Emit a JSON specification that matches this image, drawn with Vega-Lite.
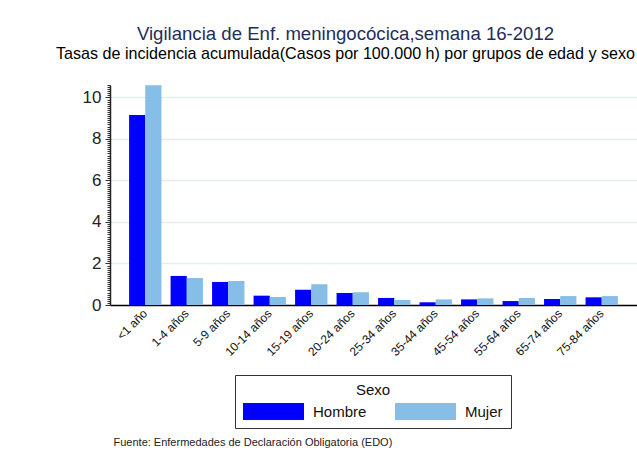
{
  "$schema": "https://vega.github.io/schema/vega-lite/v6.json",
  "width": 527,
  "height": 220,
  "autosize": "none",
  "padding": {"left": 110, "top": 85, "right": 0, "bottom": 158},
  "background": "white",
  "title": {
    "text": "Vigilancia de Enf. meningocócica,semana 16-2012\u00a0\u00a0\u00a0\u00a0\u00a0",
    "subtitle": "Tasas de incidencia acumulada(Casos por 100.000 h) por grupos de edad y sexo",
    "anchor": "middle",
    "dx": -28,
    "offset": 14,
    "font": "Liberation Sans",
    "fontSize": 18.6,
    "fontWeight": "normal",
    "color": "#1f2d5c",
    "subtitleFont": "Liberation Sans",
    "subtitleFontSize": 16.1,
    "subtitleColor": "#000000",
    "subtitlePadding": 2
  },
  "data": {
    "values": [
      {"edad": "<1 año", "sexo": "Hombre", "tasa": 9.16},
      {"edad": "<1 año", "sexo": "Mujer", "tasa": 10.59},
      {"edad": "1-4 años", "sexo": "Hombre", "tasa": 1.40},
      {"edad": "1-4 años", "sexo": "Mujer", "tasa": 1.30},
      {"edad": "5-9 años", "sexo": "Hombre", "tasa": 1.11},
      {"edad": "5-9 años", "sexo": "Mujer", "tasa": 1.16},
      {"edad": "10-14 años", "sexo": "Hombre", "tasa": 0.45},
      {"edad": "10-14 años", "sexo": "Mujer", "tasa": 0.39},
      {"edad": "15-19 años", "sexo": "Hombre", "tasa": 0.74},
      {"edad": "15-19 años", "sexo": "Mujer", "tasa": 1.00},
      {"edad": "20-24 años", "sexo": "Hombre", "tasa": 0.58},
      {"edad": "20-24 años", "sexo": "Mujer", "tasa": 0.61},
      {"edad": "25-34 años", "sexo": "Hombre", "tasa": 0.34},
      {"edad": "25-34 años", "sexo": "Mujer", "tasa": 0.24},
      {"edad": "35-44 años", "sexo": "Hombre", "tasa": 0.13},
      {"edad": "35-44 años", "sexo": "Mujer", "tasa": 0.27},
      {"edad": "45-54 años", "sexo": "Hombre", "tasa": 0.27},
      {"edad": "45-54 años", "sexo": "Mujer", "tasa": 0.32},
      {"edad": "55-64 años", "sexo": "Hombre", "tasa": 0.19},
      {"edad": "55-64 años", "sexo": "Mujer", "tasa": 0.34},
      {"edad": "65-74 años", "sexo": "Hombre", "tasa": 0.29},
      {"edad": "65-74 años", "sexo": "Mujer", "tasa": 0.43},
      {"edad": "75-84 años", "sexo": "Hombre", "tasa": 0.37},
      {"edad": "75-84 años", "sexo": "Mujer", "tasa": 0.43}
    ]
  },
  "mark": {"type": "bar"},
  "encoding": {
    "x": {
      "field": "edad",
      "type": "nominal",
      "sort": null,
      "scale": {"paddingInner": 0.22, "paddingOuter": 0.46},
      "axis": {
        "title": "Fuente: Enfermedades de Declaración Obligatoria (EDO)",
        "titleFont": "Liberation Sans",
        "titleFontSize": 11,
        "titleFontWeight": "normal",
        "titleColor": "#222222",
        "titleAnchor": "start",
        "titleAlign": "left",
        "titleBaseline": "alphabetic",
        "titleX": 3,
        "titleY": 140,
        "labelAngle": -45,
        "labelAlign": "right",
        "labelBaseline": "middle",
        "labelPadding": 6,
        "labelFont": "Liberation Sans",
        "labelFontSize": 12,
        "labelColor": "#111111",
        "ticks": false,
        "domainColor": "#000000",
        "domainWidth": 1.5,
        "grid": false
      }
    },
    "xOffset": {"field": "sexo", "type": "nominal", "scale": {"paddingInner": 0, "paddingOuter": 0}},
    "y": {
      "field": "tasa",
      "type": "quantitative",
      "scale": {"domain": [0, 10.6], "nice": false},
      "axis": {
        "title": null,
        "values": [0,0.1,0.2,0.3,0.4,0.5,0.6,0.7,0.8,0.9,1,1.1,1.2,1.3,1.4,1.5,1.6,1.7,1.8,1.9,2,2.1,2.2,2.3,2.4,2.5,2.6,2.7,2.8,2.9,3,3.1,3.2,3.3,3.4,3.5,3.6,3.7,3.8,3.9,4,4.1,4.2,4.3,4.4,4.5,4.6,4.7,4.8,4.9,5,5.1,5.2,5.3,5.4,5.5,5.6,5.7,5.8,5.9,6,6.1,6.2,6.3,6.4,6.5,6.6,6.7,6.8,6.9,7,7.1,7.2,7.3,7.4,7.5,7.6,7.7,7.8,7.9,8,8.1,8.2,8.3,8.4,8.5,8.6,8.7,8.8,8.9,9,9.1,9.2,9.3,9.4,9.5,9.6,9.7,9.8,9.9,10,10.1,10.2,10.3,10.4,10.5,10.6],
        "labelExpr": "abs(datum.value - round(datum.value/2)*2) < 0.001 ? format(datum.value, 'd') : ''",
        "labelOverlap": false,
        "labelFont": "Liberation Sans",
        "labelFontSize": 17,
        "labelColor": "#222222",
        "labelPadding": 4,
        "tickColor": "#333333",
        "tickSize": {"condition": {"test": "abs(datum.value - round(datum.value/2)*2) < 0.001", "value": 5}, "value": 3},
        "tickWidth": 1,
        "domainColor": "#222222",
        "domainWidth": 1.5,
        "grid": true,
        "gridColor": "#e4edf0",
        "gridWidth": 1.5,
        "gridOpacity": {"condition": {"test": "abs(datum.value - round(datum.value/2)*2) < 0.001 && datum.value > 0", "value": 1}, "value": 0}
      }
    },
    "color": {
      "field": "sexo",
      "type": "nominal",
      "scale": {"domain": ["Hombre", "Mujer"], "range": ["#0000ff", "#86bee8"]},
      "legend": {
        "title": "Sexo",
        "orient": "none",
        "legendX": 125,
        "legendY": 290,
        "direction": "horizontal",
        "titleAnchor": "middle",
        "titleFont": "Liberation Sans",
        "titleFontSize": 15,
        "titleFontWeight": "normal",
        "titleColor": "#111111",
        "titlePadding": 5,
        "labelFont": "Liberation Sans",
        "labelFontSize": 15,
        "labelColor": "#111111",
        "labelOffset": 31,
        "symbolOffset": 22,
        "columnPadding": 27,
        "symbolType": "M-3.59,-1H3.59V1H-3.59Z",
        "symbolSize": 289,
        "symbolStrokeWidth": 0,
        "padding": 8,
        "strokeColor": "#333333",
        "cornerRadius": 0
      }
    }
  },
  "config": {
    "view": {"stroke": null},
    "legend": {"strokeWidth": 1}
  }
}
